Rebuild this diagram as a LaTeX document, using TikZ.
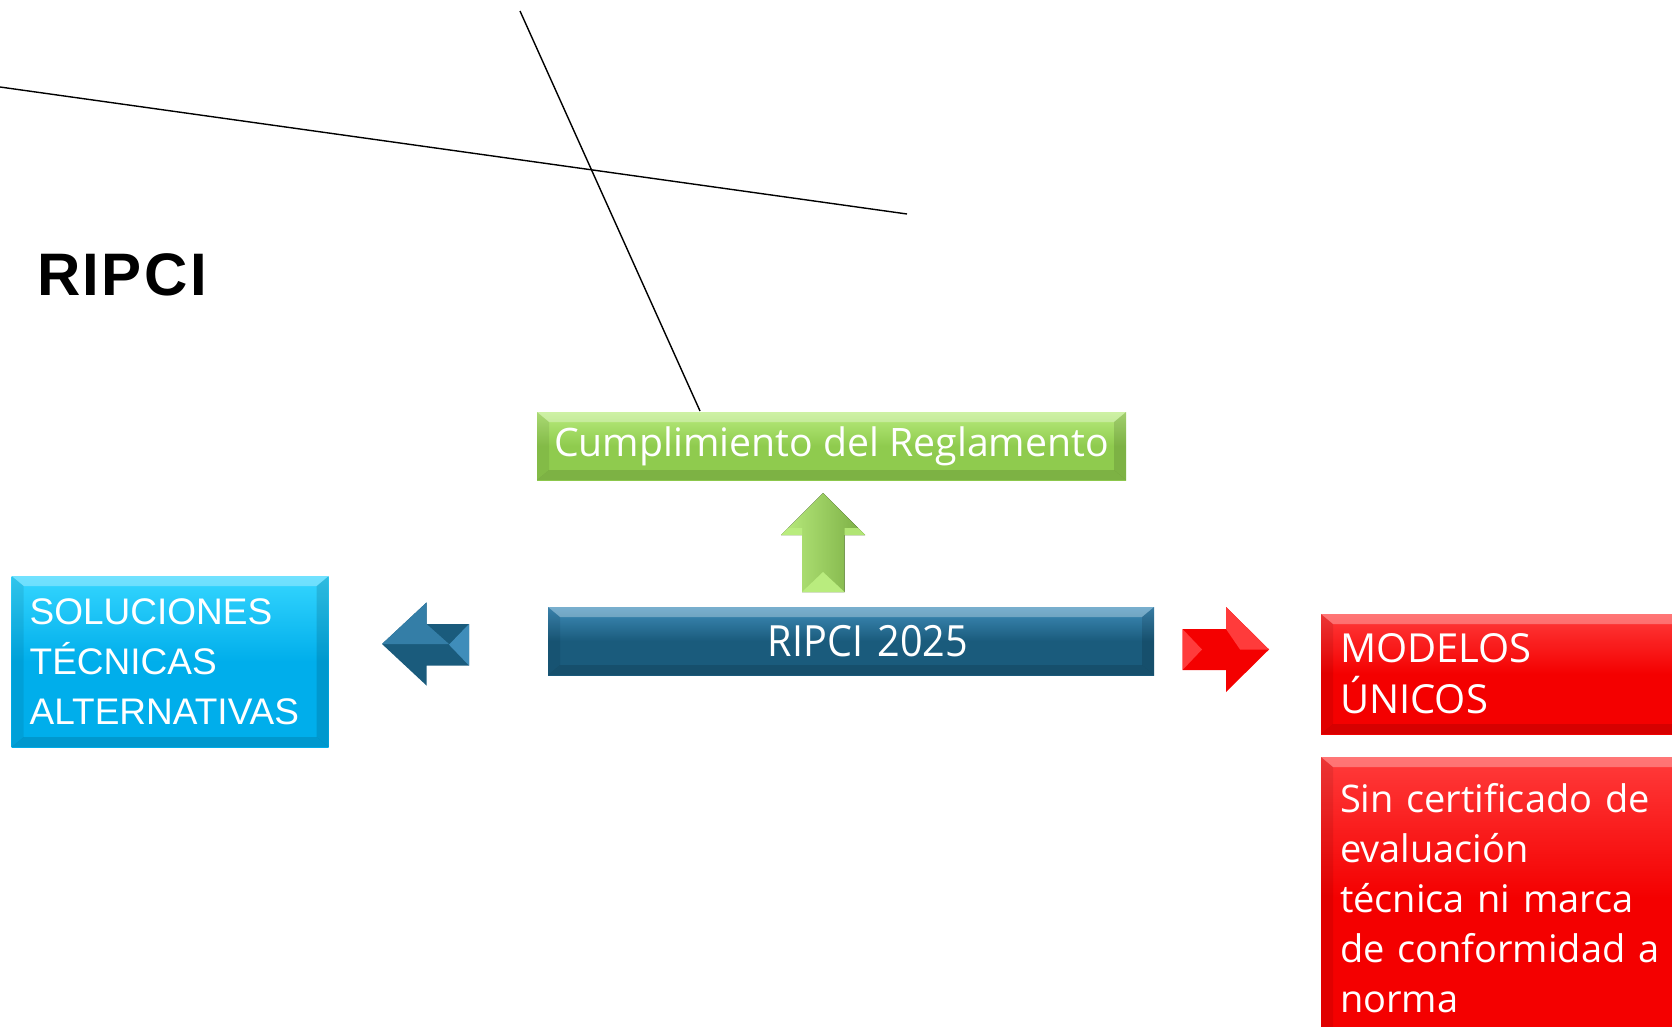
\documentclass[tikz,border=0pt]{standalone}
\usepackage{fontspec}
\setmainfont{Liberation Sans}
\newfontfamily\apt{Open Sans}
\newfontfamily\aptn[FakeStretch=0.92]{Open Sans}
\usetikzlibrary{calc}
\definecolor{grn}{HTML}{8FCB4E}
\definecolor{grnL}{HTML}{B9EC7E}
\definecolor{cyn}{HTML}{00AEEB}
\definecolor{cynL}{HTML}{35D6FF}
\definecolor{blu}{HTML}{1A5B7C}
\definecolor{bluL}{HTML}{3F8DBA}
\definecolor{rd}{HTML}{F40000}
\definecolor{rdL}{HTML}{FF3B3B}
\tikzset{
  bevelbox/.style n args={2}{top color=#2, bottom color=#1, middle color=#1,
    inner sep=0pt, outer sep=0pt, text=white,
    path picture={
      \fill[white,fill opacity=0.30] (path picture bounding box.north west) -- (path picture bounding box.north east)
        -- ($(path picture bounding box.north east)+(-12pt,-10pt)$) -- ($(path picture bounding box.north west)+(12pt,-10pt)$) -- cycle;
      \fill[black,fill opacity=0.12] (path picture bounding box.south west) -- (path picture bounding box.south east)
        -- ($(path picture bounding box.south east)+(-12pt,10pt)$) -- ($(path picture bounding box.south west)+(12pt,10pt)$) -- cycle;
      \fill[black,fill opacity=0.08] (path picture bounding box.north west) -- (path picture bounding box.south west)
        -- ($(path picture bounding box.south west)+(12pt,10pt)$) -- ($(path picture bounding box.north west)+(12pt,-10pt)$) -- cycle;
      \fill[black,fill opacity=0.12] (path picture bounding box.north east) -- (path picture bounding box.south east)
        -- ($(path picture bounding box.south east)+(-12pt,10pt)$) -- ($(path picture bounding box.north east)+(-12pt,-10pt)$) -- cycle;
    }},
  thinline/.style={line width=1.4pt, black}
}
\begin{document}
\begin{tikzpicture}[x=1pt,y=-1pt]
\useasboundingbox (0,0) rectangle (1672,1027);
\clip (0,0) rectangle (1672,1027);

% title
\node[anchor=base west, inner sep=0pt, font={\fontsize{60}{60}\selectfont\bfseries\addfontfeatures{LetterSpace=4}}] (title) at (37,295)
  {RIPCI};

% boxes
\node[bevelbox={grn}{grnL}, anchor=north west, minimum width=589pt, minimum height=68pt,
      font={\apt\fontsize{39.2}{42}\selectfont}] (cump) at (537,412)
  {Cumplimiento del Reglamento};

\node[bevelbox={blu}{bluL}, anchor=north west, minimum width=606pt, minimum height=68pt, text width=606pt, align=center,
      font={\aptn\fontsize{43}{45}\selectfont}] (ripci) at (548,607)
  {\hspace*{34pt}RIPCI 2025};

\node[bevelbox={cyn}{cynL}, anchor=north west, minimum height=171pt, text width=281pt, inner xsep=18pt, align=left,
      font={\fontsize{37}{50}\selectfont}] (sol) at (11.7,576)
  {SOLUCIONES\\TÉCNICAS\\ALTERNATIVAS};

\node[bevelbox={rd}{rdL}, anchor=north west, minimum height=120pt, text width=333pt, inner xsep=19pt, align=left,
      font={\apt\fontsize{40}{51}\selectfont}] (mod) at (1321,614)
  {MODELOS\\ÚNICOS};

\node[bevelbox={rd}{rdL}, anchor=north west, minimum height=282pt, text width=333pt, inner xsep=19pt, align=left,
      font={\apt\fontsize{38}{50}\selectfont}] (sin) at (1321,757)
  {Sin certificado de\\evaluación\\técnica ni marca\\de conformidad a\\norma};

% arrows
% up (green)
\fill[left color=grnL, right color=grn!85!black] (823,493) -- (865,535) -- (844.5,535) -- (844.5,592) -- (802,592) -- (802,535) -- (781,535) -- cycle;
\fill[grnL] (802,592) -- (844.5,592) -- (823,572) -- cycle;
\fill[grnL] (781,535) -- (802,535) -- (802,528) -- (788,528) -- cycle;
\fill[grnL!80!grn] (865,535) -- (844.5,535) -- (844.5,528) -- (858,528) -- cycle;

% left (blue)
\fill[blu] (382,644) -- (426.5,602.5) -- (426.5,624) -- (469,624) -- (469,665.5) -- (426.5,665.5) -- (426.5,685.5) -- cycle;
\fill[bluL!70!blu] (382,644) -- (426.5,602.5) -- (426.5,624) -- (449,644) -- cycle;
\fill[bluL] (469,624) -- (469,665.5) -- (449,644.7) -- cycle;

% right (red)
\fill[rd] (1182.5,629) -- (1226,629) -- (1226,607) -- (1269,649.5) -- (1226,692) -- (1226,670) -- (1182.5,670) -- cycle;
\fill[rdL] (1226,607) -- (1269,649.5) -- (1240,649.5) -- (1226,629) -- cycle;
\fill[rdL] (1182.5,629) -- (1182.5,670) -- (1202,649.5) -- cycle;

% lines
\coordinate (a1) at (0,87);
\coordinate (a2) at (907,214);
\coordinate (b1) at (520,11);
\coordinate (b2) at (700,411);
\draw[thinline] (a1) -- (a2);
\draw[thinline] (b1) -- (b2);
\end{tikzpicture}
\end{document}
